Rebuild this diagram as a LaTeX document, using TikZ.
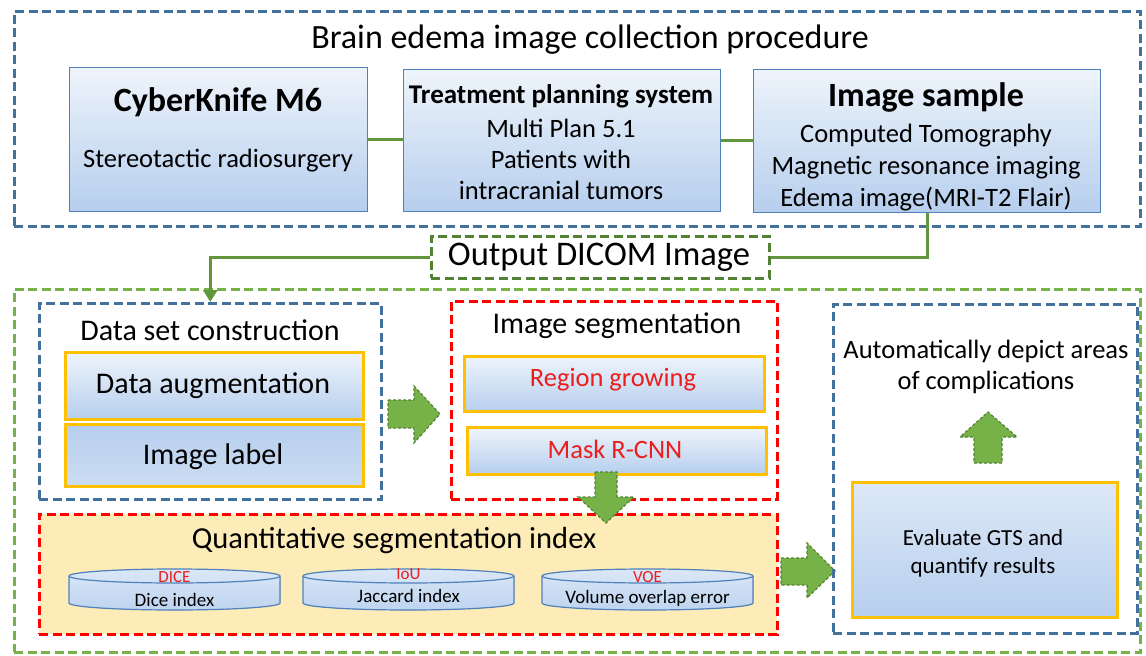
\documentclass[tikz,border=0pt]{standalone}
\usepackage{fontspec}
\setmainfont{Carlito}
\usetikzlibrary{arrows.meta}
\definecolor{dblue}{RGB}{65,113,156}
\definecolor{lgreen}{RGB}{119,178,72}
\definecolor{dgreen}{RGB}{84,130,53}
\definecolor{cgreen}{RGB}{98,150,58}
\definecolor{myred}{RGB}{255,0,0}
\definecolor{txtred}{RGB}{235,30,30}
\definecolor{myorange}{RGB}{255,192,0}
\definecolor{myyellow}{RGB}{253,235,184}
\definecolor{boxline}{RGB}{79,129,189}
\definecolor{ltblue}{RGB}{238,244,251}
\definecolor{mdblue}{RGB}{182,206,237}
\definecolor{cylblue}{RGB}{190,212,240}
\newcommand{\fsz}[2]{\fontsize{#1}{#2}\selectfont}
\begin{document}
\begin{tikzpicture}[x=1pt,y=-1pt,
  dashbox/.style={dash pattern=on 9pt off 4.5pt, line width=2.6pt, inner sep=0pt, anchor=north west},
  bluedash/.style={dashbox, draw=dblue},
  reddash/.style={dashbox, draw=myred},
  greendash/.style={dashbox, draw=lgreen},
  dicomdash/.style={dashbox, draw=dgreen},
  bluebox/.style={draw=boxline, line width=1.3pt, top color=ltblue, bottom color=mdblue, inner sep=0pt, anchor=north west},
  orangebox/.style={draw=myorange, line width=3pt, top color=ltblue, bottom color=mdblue, inner sep=0pt, anchor=north west},
  conn/.style={draw=cgreen, line width=3pt},
  blockarrow/.style={fill=lgreen, draw=dgreen, line width=1.2pt, dash pattern=on 3pt off 2pt},
  cyl/.style={draw=boxline, line width=1.2pt, top color=ltblue!60!cylblue, bottom color=cylblue},
  txt/.style={inner sep=0pt, align=center}
]
\useasboundingbox (0,0) rectangle (1146,656);

% ---------- top section ----------
\node[bluedash, minimum width=1126pt, minimum height=215pt] (top) at (13,10) {};
\node[txt, font=\fsz{34}{40}] (toptitle) at (590,40) {Brain edema image collection procedure};

\node[bluebox, minimum width=298pt, minimum height=144pt] (ck) at (69,67) {};
\node[txt, font=\fsz{34}{40}\bfseries] (ckt) at (218,102) {CyberKnife M6};
\node[txt, font=\fsz{26.5}{32}] (cks) at (218,161) {Stereotactic radiosurgery};

\node[bluebox, minimum width=317pt, minimum height=142pt] (tp) at (403,69) {};
\node[txt, font=\fsz{27}{32}\bfseries] (tpt) at (561,96) {Treatment planning system};
\node[txt, font=\fsz{26.5}{31}] (tps) at (561,159) {Multi Plan 5.1\\Patients with\\intracranial tumors};

\node[bluebox, minimum width=347pt, minimum height=143pt] (is) at (753,69) {};
\node[txt, font=\fsz{34}{40}\bfseries] (ist) at (926,97) {Image sample};
\node[txt, font=\fsz{26.5}{32}] (iss) at (926,168) {Computed Tomography\\Magnetic resonance imaging\\Edema image(MRI-T2 Flair)};

\draw[conn] (ck.east) -- (ck.east -| tp.west);
\draw[conn] (tp.east) -- (tp.east -| is.west);

% ---------- DICOM ----------
\node[dicomdash, minimum width=338pt, minimum height=42pt] (dicom) at (430,235) {};
\node[txt, font=\fsz{34.5}{40}] (dicomt) at (599,257) {Output DICOM Image};

% ---------- bottom section ----------
\node[greendash, minimum width=1126pt, minimum height=363pt] (bottom) at (13,288) {};

% data set construction
\node[bluedash, minimum width=342pt, minimum height=196pt] (ds) at (38,302) {};
\node[txt, font=\fsz{30}{36}] (dst) at (210,330) {Data set construction};
\node[orangebox, minimum width=298pt, minimum height=67pt] (aug) at (64,351) {};
\node[txt, font=\fsz{30}{36}] (augt) at (213,386) {Data augmentation};
\node[orangebox, minimum width=298pt, minimum height=62pt, top color=mdblue, bottom color=mdblue!60!ltblue] (lab) at (64,423) {};
\node[txt, font=\fsz{30}{36}] (labt) at (213,457) {Image label};

\draw[conn, -{Triangle[width=14pt,length=12pt]}] (dicom.west) -| (ds.north);
\draw[conn] (is.south) |- (dicom.east);

% image segmentation
\node[reddash, minimum width=326pt, minimum height=198pt] (seg) at (450,300) {};
\node[txt, font=\fsz{30}{36}] (segt) at (617,326) {Image segmentation};
\node[orangebox, minimum width=300pt, minimum height=55pt] (rg) at (463,355) {};
\node[txt, font=\fsz{26.5}{32}, text=txtred] (rgt) at (613,380) {Region growing};
\node[orangebox, minimum width=299pt, minimum height=47pt] (mr) at (466,426) {};
\node[txt, font=\fsz{26.5}{32}, text=txtred] (mrt) at (615,449) {Mask R-CNN};

% arrow data set -> segmentation
\draw[blockarrow] (388,400) -- (414,400) -- (414,386) -- (440,414) -- (414,443) -- (414,428) -- (388,428) -- cycle;

% quantitative
\node[reddash, fill=myyellow, minimum width=738pt, minimum height=120pt] (qs) at (38,513) {};
\node[txt, font=\fsz{30.5}{36}] (qst) at (394,541) {Quantitative segmentation index};

% cylinders
\foreach \cx/\nm/\lab/\sub/\ly/\sy in {174.5/dice/DICE/Dice index/577/600, 408.5/iou/IoU/Jaccard index/574/596, 647.5/voe/VOE/Volume overlap error/577/598}{
  \filldraw[cyl] (\cx-105.5,576) -- (\cx-105.5,603) arc[start angle=180, end angle=0, x radius=105.5, y radius=7] -- (\cx+105.5,576) arc[start angle=0, end angle=-180, x radius=105.5, y radius=7] -- cycle;
  \draw[draw=boxline, line width=1.2pt] (\cx-105.5,576) arc[start angle=180, end angle=0, x radius=105.5, y radius=7];
  \node[txt, font=\fsz{17}{20}, text=txtred] (\nm l) at (\cx,\ly) {\lab};
  \node[txt, font=\fsz{19}{22}] (\nm s) at (\cx,\sy) {\sub};
}

% down arrow segmentation -> quantitative
\draw[blockarrow] (595,472) -- (617,472) -- (617,497) -- (634,497) -- (606,523) -- (578,497) -- (595,497) -- cycle;

% arrow quantitative -> evaluation
\draw[blockarrow] (781,558) -- (807,558) -- (807,543) -- (835,571) -- (807,598) -- (807,585) -- (781,585) -- cycle;

% right box
\node[bluedash, minimum width=304pt, minimum height=329pt] (rb) at (832,303) {};
\node[txt, font=\fsz{26.5}{31}] (rbt) at (986,367) {Automatically depict areas\\of complications};
\node[orangebox, minimum width=265pt, minimum height=135pt, top color=ltblue!70!mdblue, bottom color=mdblue] (ev) at (851,481) {};
\node[txt, font=\fsz{23}{28}] (evt) at (983,553) {Evaluate GTS and\\quantify results};

% up arrow
\draw[blockarrow] (974,463) -- (1002,463) -- (1002,437) -- (1017,437) -- (988,412) -- (960,437) -- (974,437) -- cycle;
\end{tikzpicture}
\end{document}
